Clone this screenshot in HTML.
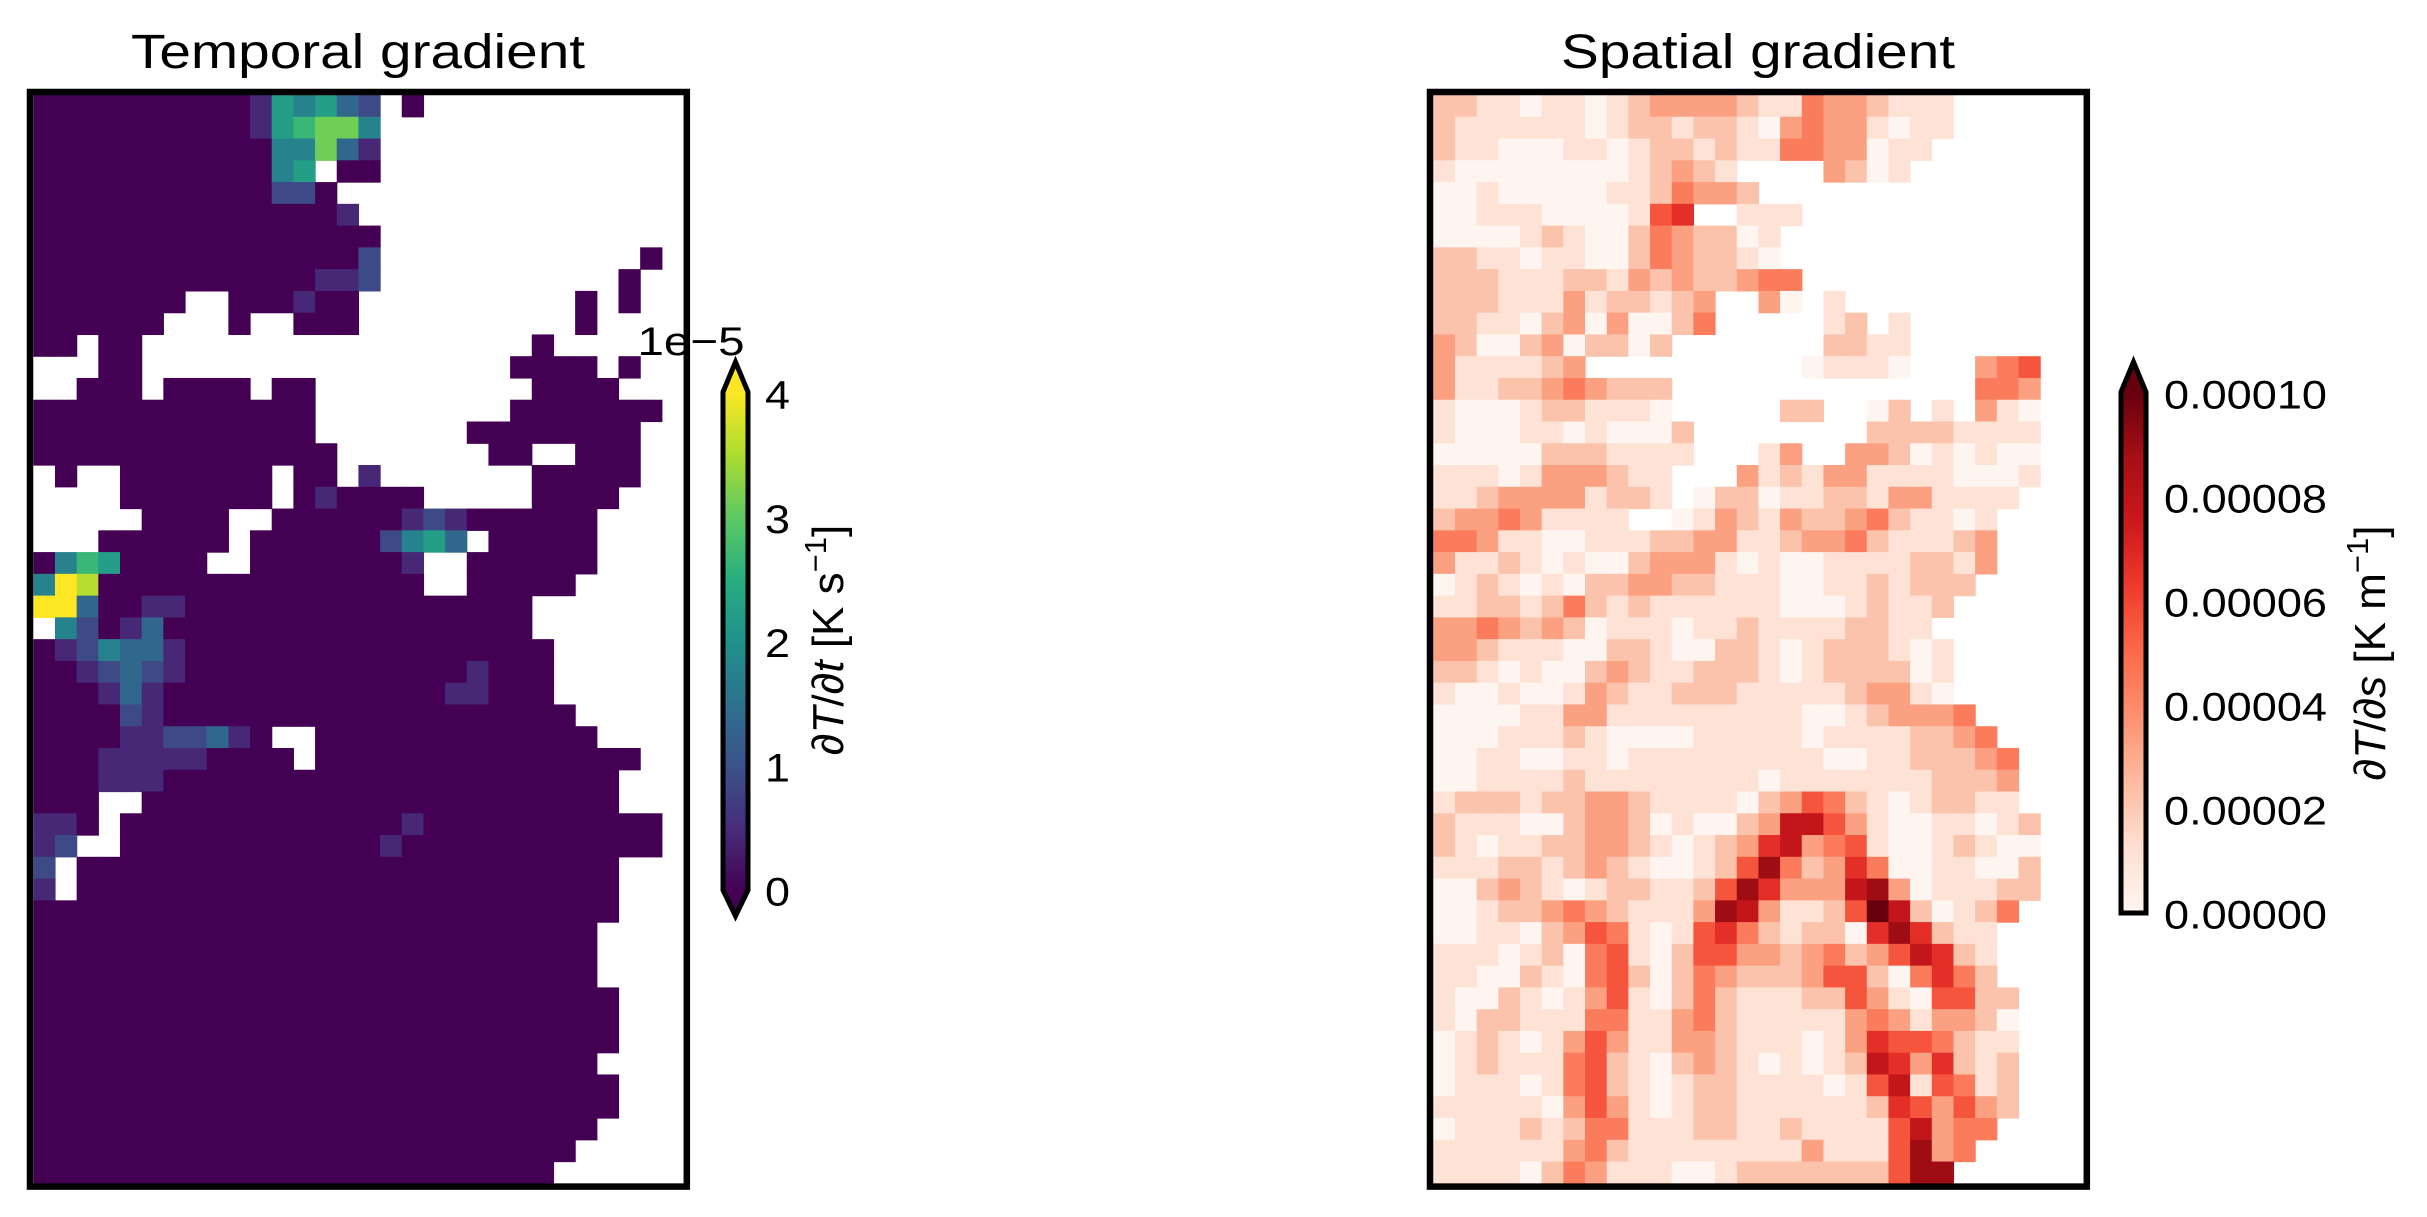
<!DOCTYPE html>
<html>
<head>
<meta charset="utf-8">
<style>
  html, body { margin: 0; padding: 0; background: #ffffff; }
  svg { display: block; }
  text { font-family: "Liberation Sans", "DejaVu Sans", sans-serif; fill: #000; }
</style>
</head>
<body>
<svg id="fig" xmlns="http://www.w3.org/2000/svg" width="2427" height="1217" viewBox="0 0 2427 1217">
  <defs>
    <linearGradient id="viridisGrad" x1="0" y1="1" x2="0" y2="0">
      <stop offset="0" stop-color="#440154"/><stop offset="0.125" stop-color="#472d7b"/>
      <stop offset="0.25" stop-color="#3b528b"/><stop offset="0.375" stop-color="#2c728e"/>
      <stop offset="0.5" stop-color="#21918c"/><stop offset="0.625" stop-color="#28ae80"/>
      <stop offset="0.75" stop-color="#5ec962"/><stop offset="0.875" stop-color="#addc30"/>
      <stop offset="1" stop-color="#fde725"/>
    </linearGradient>
    <linearGradient id="redsGrad" x1="0" y1="1" x2="0" y2="0">
      <stop offset="0" stop-color="#fff5f0"/><stop offset="0.125" stop-color="#fee0d2"/>
      <stop offset="0.25" stop-color="#fcbba1"/><stop offset="0.375" stop-color="#fc9272"/>
      <stop offset="0.5" stop-color="#fb6a4a"/><stop offset="0.625" stop-color="#ef3b2c"/>
      <stop offset="0.75" stop-color="#cb181d"/><stop offset="0.875" stop-color="#a50f15"/>
      <stop offset="1" stop-color="#67000d"/>
    </linearGradient>
  </defs>

  <text x="358" y="68" font-size="48" text-anchor="middle" textLength="454" lengthAdjust="spacingAndGlyphs">Temporal gradient</text>
  <text x="1758" y="68" font-size="48" text-anchor="middle" textLength="394" lengthAdjust="spacingAndGlyphs">Spatial gradient</text>

  <g id="temporalCells"></g>
  <g id="spatialCells"></g>

  <rect x="30" y="92" width="656.8" height="1094.6" fill="none" stroke="#000" stroke-width="6.5"/>
  <rect x="1430" y="92" width="656.8" height="1094.6" fill="none" stroke="#000" stroke-width="6.5"/>

  <g>
    <polygon points="723,392 735.5,362 748,392" fill="#fde725"/>
    <rect x="723" y="392" width="25" height="498" fill="url(#viridisGrad)"/>
    <polygon points="723,890 735.5,916 748,890" fill="#440154"/>
    <polygon points="723,392 735.5,362 748,392 748,890 735.5,916 723,890" fill="none" stroke="#000" stroke-width="5" stroke-linejoin="miter"/>
  </g>
  <g id="temporalTicks"></g>
  <text x="691" y="355" font-size="40" text-anchor="middle" textLength="107" lengthAdjust="spacingAndGlyphs">1e−5</text>
  <text font-size="44" text-anchor="middle" transform="translate(843,640) rotate(-90)">∂<tspan font-style="italic">T</tspan>/∂<tspan font-style="italic">t</tspan> [K s<tspan font-size="31" dy="-17">−1</tspan><tspan dy="17">]</tspan></text>

  <g>
    <polygon points="2121,392 2133.5,362 2146,392" fill="#67000d"/>
    <rect x="2121" y="392" width="25" height="521" fill="url(#redsGrad)"/>
    <polygon points="2121,392 2133.5,362 2146,392 2146,913 2121,913" fill="none" stroke="#000" stroke-width="5" stroke-linejoin="miter"/>
  </g>
  <g id="spatialTicks"></g>
  <text font-size="44" text-anchor="middle" transform="translate(2385,653) rotate(-90)">∂<tspan font-style="italic">T</tspan>/∂<tspan font-style="italic">s</tspan> [K m<tspan font-size="31" dy="-17">−1</tspan><tspan dy="17">]</tspan></text>
</svg>

<script>
// ---- Data: each char is a level 0..9 ('.' = missing) ----
// temporal: value = level * 4e-5 / 9 ; spatial: value = level * 1e-4 / 9
const temporalRows = [
"0000000000154532.0",
"0000000000156774",
"0000000000044731",
"0000000000045.00",
"00000000000220",
"000000000000001",
"0000000000000000",
"0000000000000002............0",
"0000000000000112...........0",
"0000000..000100..........0.0",
"000000...0..000..........0",
"00.00..................0",
"...00.................0000.0",
"..000.0000.00..........0000",
"0000000000000.........0000000",
"0000000000000.......00000000",
"00000000000000.......00..000",
".0..0000000.00.1.......00000",
"....0000000.010000.....0000",
".....0000..000000121000000",
"...000000.0000002453.00000",
"04650000..00000001..000000",
"498000000000000000..00000",
"99300110000000000000000",
".42013" + "00000000000000000",
"0124331" + "00000000000000000",
"0012321" + "000000000000" + "01000",
"000131" + "0000000000000" + "11000",
"000021" + "0000000000000000000",
"00001122310..0000000000000",
"000111110000.000000000000000",
"000111000000000000000000000",
"000..0000000000000000000000",
"110.0000000000000100000000000",
"12..0000000000001000000000000",
"2.0000000000000000000000000",
"1.0000000000000000000000000",
"000000000000000000000000000",
"00000000000000000000000000",
"00000000000000000000000000",
"00000000000000000000000000",
"000000000000000000000000000",
"000000000000000000000000000",
"000000000000000000000000000",
"00000000000000000000000000",
"000000000000000000000000000",
"000000000000000000000000000",
"00000000000000000000000000",
"0000000000000000000000000",
"000000000000000000000000"
];
const spatialRows = [
"221101101233332114332111",
"211111101221221034331011",
"21100011012212114433011",
"10000000012321....3201",
"001000001124332",
"0011100001" + "56..111",
"0000121002432201",
"2211011002432210",
"22211122132322344",
"2221113122123..30.1",
"2211023030024.....12.1",
"32002302202.......2211",
"3111123..........01110...345",
"31122343222..............443",
"10001221110.....22..02.1.310",
"100011010002........22221111",
"000002221111...13..332010100",
"11101333211...31213311110001",
"11233331221.022011221331111",
"233431111..013213223421101",
"44311001112233112334211123",
"31121010023331010011112213",
"0121010223322111001121222",
"112212421211111100012112",
"33432320111011211112211",
"332111002210022101222101",
"221010023211222101222201",
"100100132112221111123310",
"0000113311111111100123334",
"00011121000011111011112234",
"001100110111111111001122234",
"001111211111111011111112223",
"122212233211110235421012211",
"2111002332010023775310011012",
"2101122332101236734510012100",
"1112212321001258423640011002",
"0023210122112586333783011122",
"001223432111387311259720124",
"00110235410156421220686211",
"11101204510255332342357621",
"11002104520243222355204642",
"100210135102421112253105522",
"102211144113421111134313320",
"012101353113321110136554211",
"012111452102321010127636212",
"011101452101221111015715412",
"111110353101221111112653532",
"01112124411122112111157344",
"1111113421111111131115834",
"111102431110012222222588"
];
const temporalTickValues = [0, 1, 2, 3, 4];
const temporalTickLabels = ["0", "1", "2", "3", "4"];
const spatialTickValues = [0, 2e-5, 4e-5, 6e-5, 8e-5, 1e-4];
const spatialTickLabels = ["0.00000", "0.00002", "0.00004", "0.00006", "0.00008", "0.00010"];

const temporalValues = temporalRows.map(r => r.padEnd(30, '.').slice(0, 30).split('').map(ch => ch === '.' ? null : (+ch) * 4 / 9));
const spatialValues = spatialRows.map(r => r.padEnd(30, '.').slice(0, 30).split('').map(ch => ch === '.' ? null : (+ch) * 1e-4 / 9));

const VIRIDIS = ["#440154","#472d7b","#3b528b","#2c728e","#21918c","#28ae80","#5ec962","#addc30","#fde725"];
const REDS = ["#fff5f0","#fee0d2","#fcbba1","#fc9272","#fb6a4a","#ef3b2c","#cb181d","#a50f15","#67000d"];

function hex2rgb(h) { return [parseInt(h.slice(1,3),16), parseInt(h.slice(3,5),16), parseInt(h.slice(5,7),16)]; }
function cmap(stops, t) {
  t = Math.max(0, Math.min(1, t));
  const p = t * (stops.length - 1);
  const i = Math.min(stops.length - 2, Math.floor(p));
  const f = p - i;
  const a = hex2rgb(stops[i]), b = hex2rgb(stops[i + 1]);
  return "rgb(" + a.map((v, k) => Math.round(v + (b[k] - v) * f)).join(",") + ")";
}

const NS = "http://www.w3.org/2000/svg";
const NCOL = 30, NROW = 50;
const AX_W = 650.2, AX_H = 1088.3, AX_Y = 95;

function drawHeatmap(groupId, values, x0, stops, vmax, prefix) {
  const g = document.getElementById(groupId);
  const cw = AX_W / NCOL, ch = AX_H / NROW;
  const xScale = c => x0 + c * cw;
  const yScale = r => AX_Y + r * ch;
  values.forEach((row, r) => {
    row.forEach((v, c) => {
      if (v === null) return;
      const rect = document.createElementNS(NS, "rect");
      rect.setAttribute("x", xScale(c).toFixed(2));
      rect.setAttribute("y", yScale(r).toFixed(2));
      rect.setAttribute("width", (cw + 0.6).toFixed(2));
      rect.setAttribute("height", (ch + 0.6).toFixed(2));
      rect.setAttribute("fill", cmap(stops, v / vmax));
      
      
      g.appendChild(rect);
    });
  });
}
drawHeatmap("temporalCells", temporalValues, 33.3, VIRIDIS, 4, "temporal");
drawHeatmap("spatialCells", spatialValues, 1433.3, REDS, 1e-4, "spatial");

function drawTicks(groupId, vals, labels, vmin, vmax, yTop, yBot, x, lenPx) {
  const g = document.getElementById(groupId);
  const yScale = v => yBot - (v - vmin) / (vmax - vmin) * (yBot - yTop);
  vals.forEach((v, i) => {
    const t = document.createElementNS(NS, "text");
    t.setAttribute("x", x);
    t.setAttribute("y", (yScale(v) + 14.5).toFixed(1));
    t.setAttribute("font-size", "40");
    t.setAttribute("textLength", lenPx);
    t.setAttribute("lengthAdjust", "spacingAndGlyphs");
    t.textContent = labels[i];
    
    
    g.appendChild(t);
  });
}
drawTicks("temporalTicks", temporalTickValues, temporalTickLabels, 0, 4, 394, 891, 765, 25);
drawTicks("spatialTicks", spatialTickValues, spatialTickLabels, 0, 1e-4, 394, 914, 2164, 163);
</script>
</body>
</html>
